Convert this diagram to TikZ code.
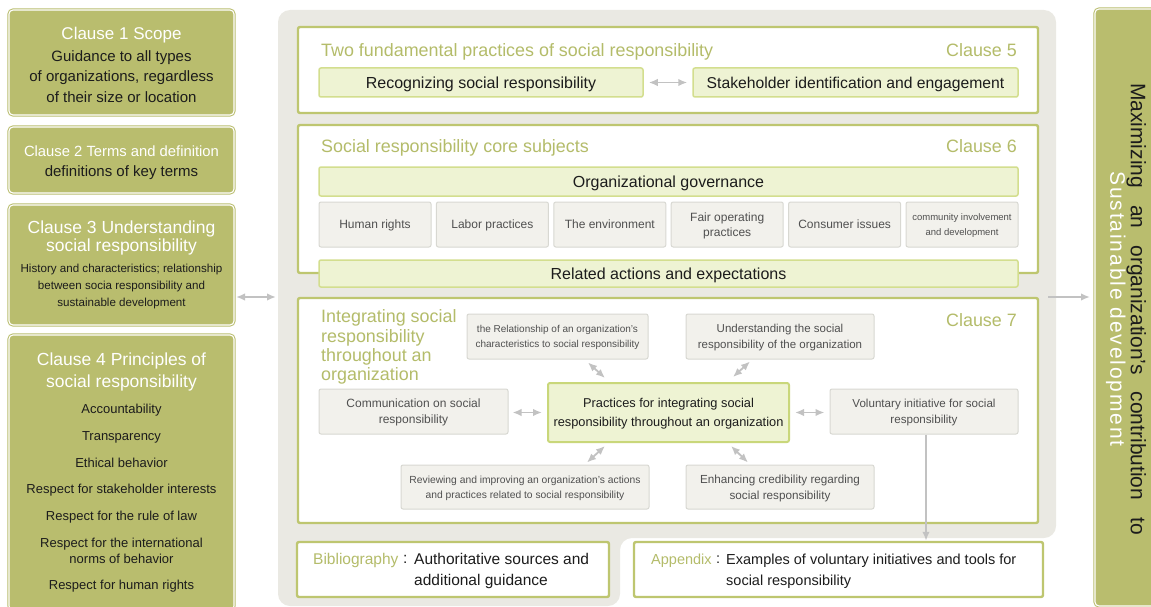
\documentclass[tikz,border=0pt]{standalone}
\usepackage{fontspec}
\setmainfont{Liberation Sans}
\usetikzlibrary{arrows.meta,calc}
\definecolor{oliveF}{HTML}{B9BD6E}
\definecolor{clauseline}{HTML}{BEC670}
\definecolor{titlegreen}{HTML}{B4BC6A}
\definecolor{lightgreen}{HTML}{EEF3D3}
\definecolor{greenline}{HTML}{D3DE8E}
\definecolor{ctrline}{HTML}{C9D77A}
\definecolor{panelgrey}{HTML}{EAE9E3}
\definecolor{greyfill}{HTML}{F2F1EC}
\definecolor{greyline}{HTML}{D8D8D2}
\definecolor{greytext}{HTML}{505050}
\definecolor{darktext}{HTML}{1C1C1C}
\definecolor{arrowgrey}{HTML}{C2C2C2}
\begin{document}
\begin{tikzpicture}[x=1pt,y=-1pt,
  sz/.style 2 args={minimum width=#1pt, minimum height=#2pt},
  cap/.style={text height=#1pt, text depth=0pt},
  olivebox/.style={fill=oliveF, draw=oliveF, double=white, double distance=1.1pt, line width=1pt, rounded corners=4pt, inner sep=0pt, outer sep=0pt},
  clausebox/.style={fill=white, draw=clauseline, line width=2.4pt, rounded corners=2pt, inner sep=0pt},
  greenbox/.style={fill=lightgreen, draw=greenline, line width=1.5pt, rounded corners=2pt, inner sep=0pt, text=darktext, font=\fontsize{16}{19}\selectfont, cap=11.5},
  greybox/.style={fill=greyfill, draw=greyline, line width=1pt, rounded corners=2pt, inner sep=0pt, align=center, text=greytext, font=\fontsize{12}{15}\selectfont, cap=8.6},
  ttl/.style={text=titlegreen, font=\fontsize{17.9}{19.3}\selectfont, inner sep=0pt, cap=12.8},
  ltitle/.style={text=white, align=center, inner sep=0pt},
  lbody/.style={text=darktext, align=center, inner sep=0pt},
  conn/.style={draw=arrowgrey, line width=1.8pt, {Latex[length=9pt,width=7.5pt]}-{Latex[length=9pt,width=7.5pt]}},
  conn1/.style={draw=arrowgrey, line width=1.8pt, -{Latex[length=9pt,width=7.5pt]}}
]
\useasboundingbox (0,0) rectangle (1151,607);
\clip (0,0) rectangle (1151,607);

% central grey panel
\fill[panelgrey, rounded corners=12pt] (278,10) -- (1056,10) -- (1056,538) -- (620,538) -- (620,606) -- (278,606) -- cycle;

% left column
\node[olivebox, sz={225}{105}] (c1) at (121.5,62.5) {};
\node[olivebox, sz={225}{66}] (c2) at (121.5,160) {};
\node[olivebox, sz={225}{120}] (c3) at (121.5,265) {};
\node[olivebox, sz={225}{275}] (c4) at (121.5,472.5) {};

\node[ltitle, font=\fontsize{17}{20}\selectfont] (c1t) at (121.5,35.5) {Clause 1 Scope};
\node[lbody, font=\fontsize{15}{20.5}\selectfont] (c1b) at (121.5,76.5) {Guidance to all types\\of organizations, regardless\\of their size or location};
\node[ltitle, font=\fontsize{14.8}{18}\selectfont] (c2t) at (121.5,151.5) {Clause 2 Terms and definition};
\node[lbody, font=\fontsize{15}{18}\selectfont] (c2b) at (121.5,172.5) {definitions of key terms};
\node[ltitle, font=\fontsize{17.5}{18}\selectfont] (c3t) at (121.5,238) {Clause 3 Understanding\\social responsibility};
\node[lbody, font=\fontsize{11.6}{17}\selectfont] (c3b) at (121.5,286) {History and characteristics; relationship\\between socia responsibility and\\sustainable development};
\node[ltitle, font=\fontsize{17.5}{22}\selectfont] (c4t) at (121.5,372) {Clause 4 Principles of\\social responsibility};
\node[lbody, font=\fontsize{13}{16}\selectfont] (c4b) at (121.5,498.5) {Accountability\\[10.7pt]Transparency\\[10.7pt]Ethical behavior\\[10.7pt]Respect for stakeholder interests\\[10.7pt]Respect for the rule of law\\[10.7pt]Respect for the international\\norms of behavior\\[10.7pt]Respect for human rights};

% right column
\node[olivebox, sz={70}{597}] (rb) at (1130,307.5) {};
\node[rotate=-90, align=center, inner sep=0pt] (rbt) at (1126,309) {{\fontsize{21}{21}\selectfont\color{darktext}\spaceskip=17pt Maximizing an organization’s contribution to}\\{\fontsize{21}{21}\selectfont\addfontfeature{LetterSpace=9}\color{white}Sustainable development}};

% clause 5
\node[clausebox, sz={740}{86}] (k5) at (668,70) {};
\node[ttl, anchor=west] (k5t) at (321,50) {Two fundamental practices of social responsibility};
\node[ttl, anchor=east] (k5n) at (1017,50) {Clause 5};
\node[greenbox, sz={324}{29}] (rec) at (481,82.5) {Recognizing social responsibility};
\node[greenbox, sz={325}{29}, font=\fontsize{15.7}{19}\selectfont] (stk) at (855.5,82.5) {Stakeholder identification and engagement};
\draw[conn] ([xshift=5pt]rec.east) -- ([xshift=-5pt]stk.west);

% clause 6
\node[clausebox, sz={740}{148}] (k6) at (668,199) {};
\node[ttl, anchor=west] (k6t) at (321,146.5) {Social responsibility core subjects};
\node[ttl, anchor=east] (k6n) at (1017,146) {Clause 6};
\node[greenbox, sz={699}{29}] (gov) at (668.5,181.5) {Organizational governance};
\node[greybox, sz={112}{45}] (hr) at (375,224.5) {Human rights};
\node[greybox, sz={112}{45}] (lp) at (492.4,224.5) {Labor practices};
\node[greybox, sz={112}{45}] (env) at (609.8,224.5) {The environment};
\node[greybox, sz={112}{45}, cap=23.6] (fop) at (727.2,224.5) {Fair operating\\practices};
\node[greybox, sz={112}{45}] (ci) at (844.6,224.5) {Consumer issues};
\node[greybox, sz={112}{45}, font=\fontsize{9.5}{14.7}\selectfont, cap=21.5] (cid) at (962,224.5) {community involvement\\and development};
\node[greenbox, sz={699}{27}] (ra) at (668.5,273.5) {Related actions and expectations};

% clause 7
\node[clausebox, sz={740}{225}] (k7) at (668,410.5) {};
\node[ttl, anchor=west, align=left, cap=70.7] (k7t) at (321,345.5) {Integrating social\\responsibility\\throughout an\\organization};
\node[ttl, anchor=east] (k7n) at (1017,320) {Clause 7};
\node[greybox, sz={181}{45}, font=\fontsize{10}{15.7}\selectfont, cap=22.9] (relb) at (557.5,336.5) {the Relationship of an organization’s\\characteristics to social responsibility};
\node[greybox, sz={188}{45}, font=\fontsize{11.5}{15.7}\selectfont, cap=23.9] (und) at (780,336.5) {Understanding the social\\responsibility of the organization};
\node[greenbox, sz={241}{59}, align=center, draw=ctrline, line width=2pt, font=\fontsize{12.8}{19.4}\selectfont, cap=28.6] (ctr) at (668.5,412.5) {Practices for integrating social\\responsibility throughout an organization};
\node[greybox, sz={189}{45}, font=\fontsize{12}{16.3}\selectfont, cap=24.9] (com) at (413.5,411.5) {Communication on social\\responsibility};
\node[greybox, sz={188}{45}, font=\fontsize{11.6}{15.7}\selectfont, cap=24] (vol) at (924,411.5) {Voluntary initiative for social\\responsibility};
\node[greybox, sz={248}{44}, font=\fontsize{10.3}{15}\selectfont, cap=22.4] (rev) at (525,487) {Reviewing and improving an organization’s actions\\and practices related to social responsibility};
\node[greybox, sz={188}{44}, font=\fontsize{11.7}{16}\selectfont, cap=24.4] (enh) at (780,487) {Enhancing credibility regarding\\social responsibility};

\draw[conn] ($(relb.south)+(30.5,3)$) -- ($(ctr.north)+(-63.5,-4)$);
\draw[conn] ($(und.south)+(-30,2)$) -- ($(ctr.north)+(64.5,-5)$);
\draw[conn] ($(com.east)+(4,1)$) -- ($(ctr.west)+(-5,0)$);
\draw[conn] ($(ctr.east)+(5,0)$) -- ($(vol.west)+(-5,1)$);
\draw[conn] ($(ctr.south)+(-63.5,3)$) -- ($(rev.north)+(62,-2)$);
\draw[conn] ($(ctr.south)+(62.5,3)$) -- ($(enh.north)+(-32,-2)$);

% bibliography and appendix
\node[clausebox, sz={312}{55}] (bib) at (453,569.5) {};
\node[clausebox, sz={409}{55}] (app) at (838.5,569.5) {};
\draw[conn1] ([xshift=2pt]vol.south) -- ([xshift=2pt]vol.south |- app.north);

\node[anchor=west, text=titlegreen, font=\fontsize{15.5}{21}\selectfont, inner sep=0pt, cap=11.1] (bibl) at (313,559) {Bibliography};
\node[anchor=west, text=darktext, font=\fontsize{15.5}{21}\selectfont, inner sep=0pt, cap=11.1] (bibc) at (403,558) {:};
\node[anchor=west, align=left, text=darktext, font=\fontsize{15.5}{21}\selectfont, inner sep=0pt, cap=32.1] (bibx) at (414,569.5) {Authoritative sources and\\additional guidance};
\node[anchor=west, text=titlegreen, font=\fontsize{14.5}{21}\selectfont, inner sep=0pt, cap=10.4] (appl) at (651,559) {Appendix};
\node[anchor=west, text=darktext, font=\fontsize{14.5}{21}\selectfont, inner sep=0pt, cap=10.4] (appc) at (716,558) {:};
\node[anchor=west, align=left, text=darktext, font=\fontsize{14.5}{21}\selectfont, inner sep=0pt, cap=31.4] (appx) at (726,569.5) {Examples of voluntary initiatives and tools for\\social responsibility};

% outer connectors
\coordinate (la) at (236,297);
\coordinate (lb) at (276,297);
\draw[conn] (la) -- (lb);
\coordinate (ra1) at (1048,297);
\coordinate (ra2) at (1090,297);
\draw[conn1] (ra1) -- (ra2);
\end{tikzpicture}
\end{document}
